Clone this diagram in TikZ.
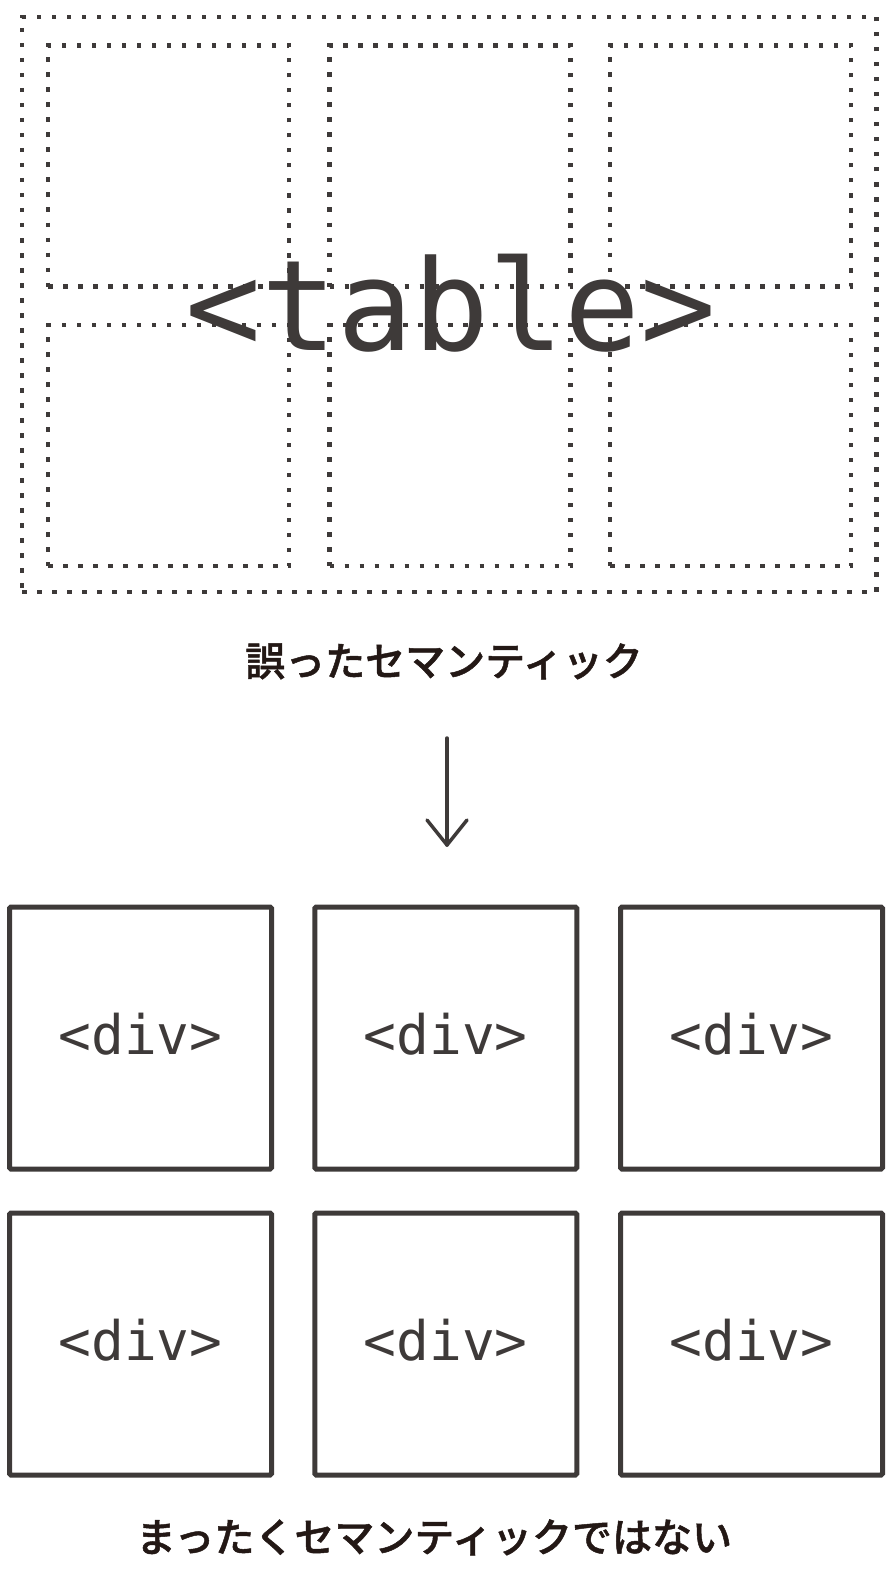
\documentclass[tikz,border=0pt]{standalone}
\usepackage{fontspec}
\newfontfamily\monofont{DejaVu Sans Mono}
\newfontfamily\cjkfont{Noto Sans CJK JP Medium}[FakeBold=1.2]
\definecolor{linegray}{HTML}{3E3A39}
\definecolor{inkblack}{HTML}{231815}
\begin{document}
\begin{tikzpicture}[x=1pt,y=-1pt,
  dotbox/.style={draw=linegray, line width=4.5pt, dash pattern=on 4.5pt off 10.5pt, inner sep=0pt, outer sep=0pt},
  cellbox/.style={dotbox, minimum width=241pt, minimum height=241pt},
  divbox/.style={draw=linegray, line width=5pt, rounded corners=1.5pt, minimum width=262pt, minimum height=262pt,
     inner sep=0pt, text=linegray, font=\monofont\fontsize{54.5}{54.5}\selectfont, text height=33pt, text depth=0pt},
  jplabel/.style={text=inkblack, font=\cjkfont\fontsize{40}{40}\selectfont, inner sep=0pt, anchor=base},
  arrowline/.style={draw=linegray, line width=3.5pt, line cap=round, line join=round}
]
\useasboundingbox (0,0) rectangle (894,1573);

% table text
\node[anchor=base, inner sep=0pt, text=linegray, font=\monofont\fontsize{126}{126}\selectfont] (tabletext) at (451,350) {<table>};

% dotted table
\node[dotbox, minimum width=854.5pt, minimum height=575pt] (outer) at (449.25,304.5) {};
\node[cellbox] (c11) at (168.5,166) {};
\node[cellbox] (c12) at (450,166) {};
\node[cellbox] (c13) at (730.5,166) {};
\node[cellbox] (c21) at (168.5,445.5) {};
\node[cellbox] (c22) at (450,445.5) {};
\node[cellbox] (c23) at (730.5,445.5) {};

% labels
\node[jplabel] (wrong) at (444,676) {誤ったセマンティック};

% arrow
\coordinate (atop) at (447,738);
\coordinate (atip) at (447,845);
\coordinate (aleft) at (427,820);
\coordinate (aright) at (467,820);
\draw[arrowline] (atop) -- (atip);
\draw[arrowline] (aleft) -- (atip) -- (aright);

% div boxes
\node[divbox] (d11) at (140.5,1038) {<div>};
\node[divbox] (d12) at (445.75,1038) {<div>};
\node[divbox] (d13) at (751.5,1038) {<div>};
\node[divbox] (d21) at (140.5,1344) {<div>};
\node[divbox] (d22) at (445.75,1344) {<div>};
\node[divbox] (d23) at (751.5,1344) {<div>};

\node[jplabel] (notsem) at (434,1552) {まったくセマンティックではない};
\end{tikzpicture}
\end{document}
